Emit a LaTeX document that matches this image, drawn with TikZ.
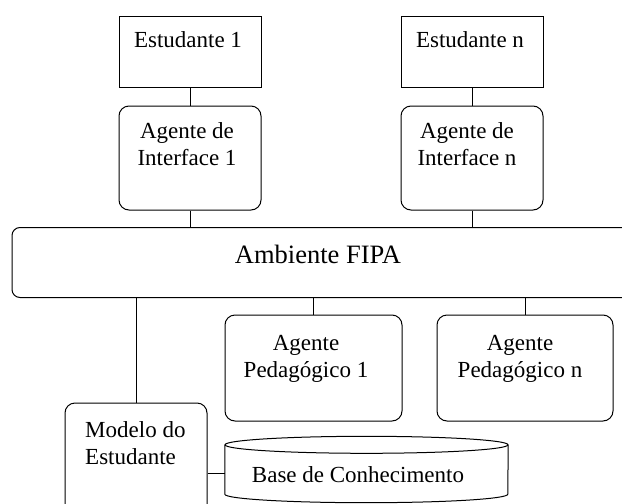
\documentclass[tikz,border=0pt]{standalone}
\usepackage{fontspec}
\setmainfont{Liberation Serif}
\usepackage{tikz}

\tikzset{
  caixa/.style={draw,line width=1pt,inner sep=0pt,minimum width=142pt,minimum height=71pt},
  agente/.style={caixa,rounded corners=10pt,minimum height=104pt},
  rotulo/.style={font=\fontsize{23}{27}\selectfont,align=center,inner sep=0pt,anchor=base},
  liga/.style={line width=1pt}
}

\begin{document}
\begin{tikzpicture}[x=1pt,y=-1pt]
\useasboundingbox (0,0) rectangle (622,504);
\clip (0,0) rectangle (622,504);
\node[caixa] (est1) at (190,51.5) {};
\node[caixa] (estn) at (472,51.5) {};
\node[agente] (int1) at (190,158) {};
\node[agente] (intn) at (472,158) {};
\node[caixa,rounded corners=8pt,minimum width=628pt,minimum height=70pt] (fipa) at (326,262.5) {};
\node[agente,minimum width=177pt,minimum height=106pt] (ped1) at (313.5,368) {};
\node[agente,minimum width=176pt,minimum height=106pt] (pedn) at (525,368) {};
\node[agente,minimum height=112pt] (modelo) at (136,459) {};
\node[inner sep=0pt,minimum width=283pt,minimum height=49pt] (base) at (366.5,469.5) {};
\coordinate (base-e) at ([yshift=-3.5pt]base.west);
\draw[liga] (base.north west) -- (base.south west) arc[start angle=180,end angle=360,x radius=141.5pt,y radius=8.5pt] -- (base.north east);
\draw[liga,fill=white] (base.north) ellipse[x radius=141.5pt,y radius=8.5pt];
\node[rotulo] (est1-t) at (188,47) {Estudante 1};
\node[rotulo] (estn-t) at (470,47) {Estudante n};
\node[rotulo] (int1-t) at (187,165) {Agente de\\Interface 1};
\node[rotulo] (intn-t) at (467,165) {Agente de\\Interface n};
\node[rotulo,font=\fontsize{26.5}{30}\selectfont] (fipa-t) at (318,263) {Ambiente FIPA};
\node[rotulo] (ped1-t) at (306,377) {Agente\\Pedagógico 1};
\node[rotulo] (pedn-t) at (520,377) {Agente\\Pedagógico n};
\node[rotulo,align=left,anchor=base west] (modelo-t) at (85,464) {Modelo do\\Estudante};
\node[rotulo] (base-t) at (358,482) {Base de Conhecimento};
\draw[liga] (est1) -- (int1);
\draw[liga] (estn) -- (intn);
\draw[liga] (int1) -- (int1.south |- fipa.north);
\draw[liga] (intn) -- (intn.south |- fipa.north);
\draw[liga] (ped1.north |- fipa.south) -- (ped1);
\draw[liga] (pedn.north |- fipa.south) -- (pedn);
\draw[liga] (modelo.north |- fipa.south) -- (modelo);
\draw[liga] (base-e -| modelo.east) -- (base-e);
\end{tikzpicture}
\end{document}
